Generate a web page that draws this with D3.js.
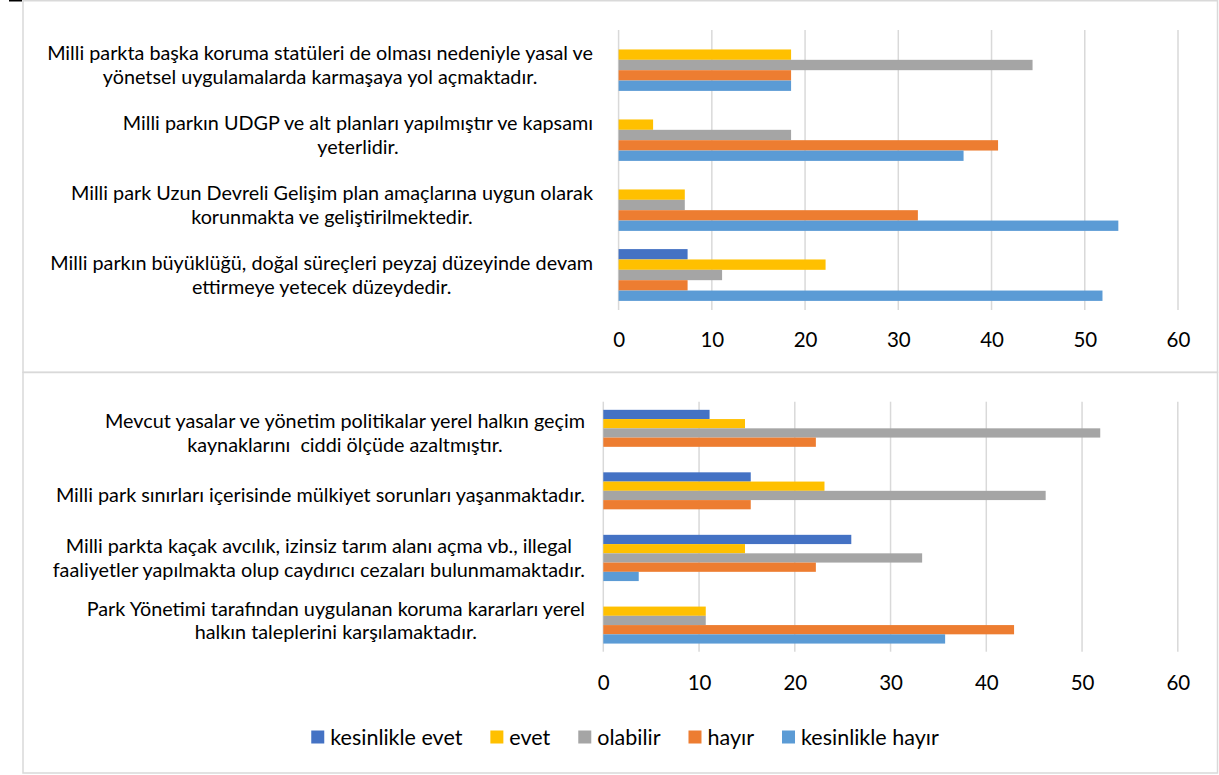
<!DOCTYPE html>
<html>
<head>
<meta charset="utf-8">
<script src="https://cdn.jsdelivr.net/npm/d3@7/dist/d3.min.js"></script>
<style>
  html, body { margin: 0; padding: 0; background: #fff; }
  svg { display: block; }
  text { font-family: Lato, "Noto Sans", sans-serif; fill: #000; white-space: pre; }
</style>
</head>
<body>
<svg id="chart" width="1219" height="775"></svg>
<script>
// ---- Data ----
const seriesNames = ["kesinlikle evet", "evet", "olabilir", "hayır", "kesinlikle hayır"];
const seriesColors = ["#4472C4", "#FFC000", "#A5A5A5", "#ED7D31", "#5B9BD5"];
const ticks = [0, 10, 20, 30, 40, 50, 60];

// Top panel categories (top to bottom), each as lines
const categoriesTop = [
  ["Milli parkta başka koruma statüleri de olması nedeniyle yasal ve", "yönetsel uygulamalarda karmaşaya yol açmaktadır."],
  ["Milli parkın UDGP ve alt planları yapılmıştır ve kapsamı", "yeterlidir."],
  ["Milli park Uzun Devreli Gelişim plan amaçlarına uygun olarak", "korunmakta ve geliştirilmektedir."],
  ["Milli parkın büyüklüğü, doğal süreçleri peyzaj düzeyinde devam", "ettirmeye yetecek düzeydedir."]
];
const kesinlikleEvetTop   = [0,    0,    0,    7.4];
const evetTop             = [18.5, 3.7,  7.1,  22.2];
const olabilirTop         = [44.4, 18.5, 7.1,  11.1];
const hayirTop            = [18.5, 40.7, 32.1, 7.4];
const kesinlikleHayirTop  = [18.5, 37.0, 53.6, 51.9];

// Bottom panel categories (top to bottom)
const categoriesBottom = [
  ["Mevcut yasalar ve yönetim politikalar yerel halkın geçim", "kaynaklarını  ciddi ölçüde azaltmıştır."],
  ["Milli park sınırları içerisinde mülkiyet sorunları yaşanmaktadır."],
  ["Milli parkta kaçak avcılık, izinsiz tarım alanı açma vb., illegal", "faaliyetler yapılmakta olup caydırıcı cezaları bulunmamaktadır."],
  ["Park Yönetimi tarafından uygulanan koruma kararları yerel", "halkın taleplerini karşılamaktadır."]
];
const kesinlikleEvetBottom  = [11.1, 15.4, 25.9, 0];
const evetBottom            = [14.8, 23.1, 14.8, 10.7];
const olabilirBottom        = [51.9, 46.2, 33.3, 10.7];
const hayirBottom           = [22.2, 15.4, 22.2, 42.9];
const kesinlikleHayirBottom = [0,    0,    3.7,  35.7];

const svg = d3.select("#chart");

// Panel borders
svg.append("rect").attr("x", 23).attr("y", 0.75).attr("width", 1194.5).attr("height", 371.5)
  .attr("fill", "none").attr("stroke", "#D9D9D9").attr("stroke-width", 1.5);
svg.append("rect").attr("x", 23).attr("y", 372.5).attr("width", 1194.5).attr("height", 400.5)
  .attr("fill", "none").attr("stroke", "#D9D9D9").attr("stroke-width", 1.5);
svg.append("line").attr("x1", 9).attr("x2", 22).attr("y1", 0.75).attr("y2", 0.75)
  .attr("stroke", "#000").attr("stroke-width", 1.5);

function panel(cfg) {
  const { cats, values, x0, x1, y0, y1, labelRight, tickY } = cfg;
  const x = d3.scaleLinear().domain([0, 60]).range([x0, x1]);
  const y = d3.scaleBand().domain(d3.range(cats.length)).range([y0, y1])
    .paddingInner(0.26).paddingOuter(0.13);
  const ys = d3.scaleBand().domain(d3.range(seriesNames.length)).range([0, y.bandwidth()]);
  const g = svg.append("g");

  // gridlines
  g.append("g").selectAll("line").data(ticks).join("line")
    .attr("x1", d => x(d)).attr("x2", d => x(d))
    .attr("y1", y0).attr("y2", y1)
    .attr("stroke", "#D9D9D9").attr("stroke-width", 1.5);

  // bars
  cats.forEach((c, ci) => {
    values.forEach((arr, si) => {
      const v = arr[ci];
      if (v <= 0) return;
      g.append("rect")
        .attr("x", x(0))
        .attr("y", y(ci) + ys(si))
        .attr("width", x(v) - x(0))
        .attr("height", ys.bandwidth())
        .attr("fill", seriesColors[si]);
    });
  });

  // axis tick labels
  const axis = d3.axisBottom(x).tickValues(ticks).tickSize(0).tickPadding(0);
  const ax = g.append("g").attr("transform", `translate(0,${tickY})`).call(axis);
  ax.select(".domain").remove();
  ax.selectAll("text").attr("font-size", 20.5).attr("font-family", "Lato, 'Noto Sans', sans-serif")
    .attr("fill", "#000").attr("dy", "0.35em").attr("y", 0);

  // category labels
  const lh = 23.5;
  cats.forEach((lines, ci) => {
    const cy = y(ci) + y.bandwidth() / 2;
    const t = g.append("text").attr("font-size", 19.8).attr("text-anchor", "middle");
    const spans = lines.map((ln, li) =>
      t.append("tspan").text(ln)
        .attr("y", cy + (li - (lines.length - 1) / 2) * lh)
        .attr("dy", "0.35em"));
    let maxW = 0;
    spans.forEach(s => { maxW = Math.max(maxW, s.node().getComputedTextLength()); });
    spans.forEach(s => s.attr("x", labelRight - maxW / 2));
  });
}

panel({
  cats: categoriesTop,
  values: [kesinlikleEvetTop, evetTop, olabilirTop, hayirTop, kesinlikleHayirTop],
  x0: 618.6, x1: 1178, y0: 30, y1: 310, labelRight: 593, tickY: 340
});
panel({
  cats: categoriesBottom,
  values: [kesinlikleEvetBottom, evetBottom, olabilirBottom, hayirBottom, kesinlikleHayirBottom],
  x0: 603.3, x1: 1177.8, y0: 401.7, y1: 651.7, labelRight: 585, tickY: 683
});

// legend
const legend = svg.append("g");
let cx = 0;
seriesNames.forEach((name, i) => {
  const it = legend.append("g");
  it.append("rect").attr("x", 0).attr("y", -6.5).attr("width", 13).attr("height", 13)
    .attr("fill", seriesColors[i]);
  const tx = it.append("text").attr("x", 19).attr("dy", "0.35em").attr("font-size", 21.5).text(name);
  const w = 19 + tx.node().getComputedTextLength();
  it.attr("transform", `translate(${cx},0)`);
  cx += w + 28;
});
const totalW = cx - 28;
legend.attr("transform", `translate(${625 - totalW / 2},737)`);
</script>
</body>
</html>
